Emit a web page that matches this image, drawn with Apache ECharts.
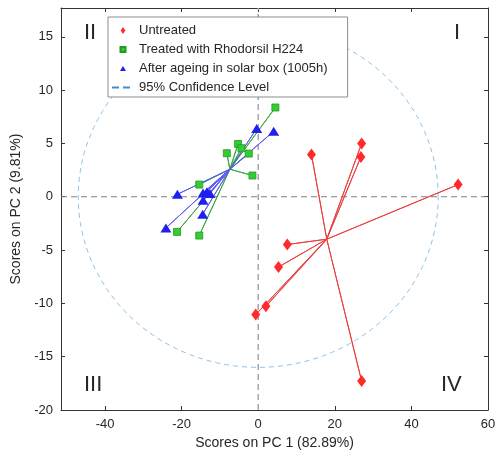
<!DOCTYPE html>
<html><head><meta charset="utf-8">
<script src="https://cdn.jsdelivr.net/npm/echarts@6/dist/echarts.min.js"></script>
<style>html,body{margin:0;padding:0;background:#fff}#c{width:499px;height:455px}</style>
</head><body><div id="c"></div>
<script>
// PCA scores [PC1, PC2]
const untreatedX = [52.2, 27.0, 26.8, 13.9, 7.6, 5.3, 2.0, -0.65, 27.0];
const untreatedY = [1.14, 4.99, 3.73, 3.96, -4.48, -6.59, -10.27, -11.05, -17.28];
const treatedX = [4.48, -5.26, -4.38, -8.2, -2.47, -1.51, -15.4, -21.2, -15.4];
const treatedY = [8.37, 4.95, 4.55, 4.08, 4.05, 1.99, 1.14, -3.30, -3.64];
const agedX = [-0.39, 4.04, -21.1, -14.4, -13.4, -12.6, -14.4, -14.5, -24.1];
const agedY = [6.40, 6.14, 0.23, 0.36, 0.47, 0.30, -0.33, -1.64, -2.93];
// star centres
const untreatedCenter = [17.9, -3.98];
const treatedCenter = [-7.4, 2.58];
const agedCenter = [-7.4, 2.58];
// 95% confidence ellipse semi-axes
const ellipseA = 47.0;
const ellipseB = 16.0;
// ticks
const xTicks = [-40, -20, 0, 20, 40, 60];
const yTicks = [-20, -15, -10, -5, 0, 5, 10, 15];
const xLimits = [-51.5, 60];
const yLimits = [-20, 17.7];
const names = ['Untreated', 'Treated with Rhodorsil H224', 'After ageing in solar box (1005h)', '95% Confidence Level'];
const quadrants = ['I', 'II', 'III', 'IV'];

function pts(xs, ys){ return xs.map((x,i)=>[x, ys[i]]); }
function star(xs, ys, c){ const d=[]; xs.forEach((x,i)=>{ d.push(c); d.push([x, ys[i]]); }); d.push(c); return d; }
const ellipse = [];
for (let i=0;i<=240;i++){ const t=i/240*2*Math.PI; ellipse.push([ellipseA*Math.cos(t), ellipseB*Math.sin(t)]); }

const font = 'Liberation Sans, Arial, sans-serif';
const axCol = '#333333';
const txtCol = '#262626';
const chart = echarts.init(document.getElementById('c'));
const tickStyle = (vals)=>({inside:true, length:4, lineStyle:{color:axCol}, customValues:vals});
const baseAxis = {
  type:'value',
  axisLine:{onZero:false, lineStyle:{color:axCol, width:1}},
  splitLine:{show:false}
};
const qStyle = {fontSize:22, fill:txtCol, fontFamily:font};
chart.setOption({
  animation:false,
  textStyle:{fontFamily:font},
  grid:{left:61, right:11, top:8, bottom:45, containLabel:false, outerBoundsMode:'none'},
  xAxis:[
    Object.assign({}, baseAxis, {min:xLimits[0], max:xLimits[1], position:'bottom',
      name:'Scores on PC 1 (82.89%)', nameLocation:'middle', nameGap:25,
      nameTextStyle:{fontSize:14, color:txtCol, fontFamily:font},
      axisTick:tickStyle(xTicks),
      axisLabel:{color:txtCol, fontSize:13, fontFamily:font, margin:8, customValues:xTicks}}),
    Object.assign({}, baseAxis, {min:xLimits[0], max:xLimits[1], position:'top',
      axisTick:tickStyle(xTicks), axisLabel:{show:false}})
  ],
  yAxis:[
    Object.assign({}, baseAxis, {min:yLimits[0], max:yLimits[1], position:'left',
      name:'Scores on PC 2 (9.81%)', nameLocation:'middle', nameGap:32,
      nameTextStyle:{fontSize:14, color:txtCol, fontFamily:font},
      axisTick:tickStyle(yTicks),
      axisLabel:{color:txtCol, fontSize:13, fontFamily:font, margin:8, customValues:yTicks}}),
    Object.assign({}, baseAxis, {min:yLimits[0], max:yLimits[1], position:'right',
      axisTick:tickStyle(yTicks), axisLabel:{show:false}})
  ],
  legend:{
    orient:'vertical', left:108, top:17,
    data:[
      {name:names[0], icon:'path://M3,0L6,4.5L3,9L0,4.5Z'},
      {name:names[1], icon:'path://M-1,-1M6,6M0,0h5v5h-5z'},
      {name:names[2], icon:'path://M0,-1M0,6M3,0L6,5L0,5Z'},
      {name:names[3], itemStyle:{opacity:0}, lineStyle:{color:'#3a8fd0', width:2, type:[7,4], opacity:1}}
    ],
    symbolKeepAspect:true,
    backgroundColor:'#fff', borderColor:'#8c8c8c', borderWidth:1, borderRadius:0,
    padding:[6,20,2,3], itemGap:4, itemWidth:22, itemHeight:7,
    textStyle:{fontSize:13, color:txtCol, fontFamily:font, lineHeight:15}
  },
  graphic:[
    {type:'text', left:454, top:22, style:Object.assign({text:quadrants[0]}, qStyle)},
    {type:'text', left:84, top:22, style:Object.assign({text:quadrants[1]}, qStyle)},
    {type:'text', left:84, top:374, style:Object.assign({text:quadrants[2]}, qStyle)},
    {type:'text', left:441, top:374, style:Object.assign({text:quadrants[3]}, qStyle)}
  ],
  series:[
    {type:'line', data:[[xLimits[0],0],[xLimits[1],0]], symbol:'none', silent:true, z:1,
      lineStyle:{color:'#808080', width:1, type:[6,4]}},
    {type:'line', data:[[0,yLimits[0]],[0,yLimits[1]]], symbol:'none', silent:true, z:1,
      lineStyle:{color:'#a6a6a6', width:1.5, type:[6,4]}},
    {name:names[3], type:'line', data:ellipse, symbol:'none', smooth:false, z:2,
      lineStyle:{color:'#8cc2e6', width:1, type:[5,4]}, itemStyle:{color:'#3a8fd0'}},
    {type:'line', data:star(untreatedX, untreatedY, untreatedCenter), symbol:'none', z:3,
      lineStyle:{color:'#e84040', width:1}},
    {type:'line', data:star(treatedX, treatedY, treatedCenter), symbol:'none', z:3,
      lineStyle:{color:'#3aa83a', width:1}},
    {type:'line', data:star(agedX, agedY, agedCenter), symbol:'none', z:3,
      lineStyle:{color:'#5c5cf0', width:1}},
    {name:names[0], type:'scatter', data:pts(untreatedX, untreatedY), symbol:'diamond', symbolSize:[9,12], z:5,
      itemStyle:{color:'#ff2a2a', opacity:1}},
    {name:names[1], type:'scatter', data:pts(treatedX, treatedY), symbol:'rect', symbolSize:7, z:5,
      itemStyle:{color:'#33cc33', borderColor:'#229922', borderWidth:0.8, opacity:1}},
    {name:names[2], type:'scatter', data:pts(agedX, agedY), symbol:'triangle', symbolSize:[11,9], z:6,
      itemStyle:{color:'#1f1ff0', opacity:1}}
  ]
});
</script></body></html>
